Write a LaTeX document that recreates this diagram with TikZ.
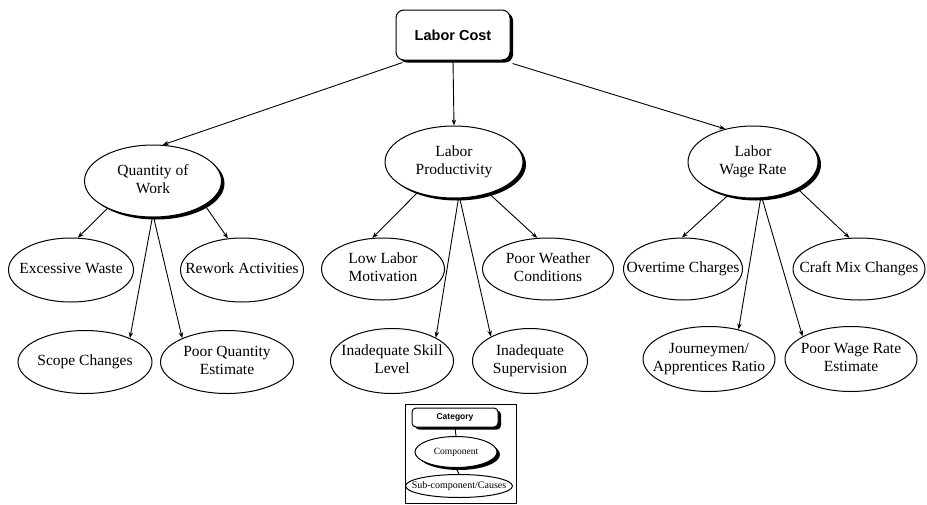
\documentclass[tikz,border=0pt]{standalone}
\usepackage{fontspec}
\setmainfont{Liberation Serif}
\setsansfont{Liberation Sans}
\usetikzlibrary{shapes.geometric,shadows,arrows.meta}

% centred label of zero width, so the ellipse size is set by minimum width/height only
\newcommand{\elabel}[1]{\makebox[0pt][c]{\begin{tabular}{@{}c@{}}#1\end{tabular}}}

\tikzset{
  x=1pt, y=-1pt,
  shade/.style={drop shadow={fill=black, opacity=1, shadow xshift=3pt, shadow yshift=-2.5pt}},
  catbox/.style={draw, line width=1pt, fill=white, rounded corners=8pt, shade,
                 font=\sffamily\bfseries\fontsize{14.5}{16}\selectfont},
  compnode/.style={ellipse, draw, line width=1pt, fill=white, inner sep=0pt, shade,
                   font=\fontsize{15.5}{17.5}\selectfont},
  subnode/.style={ellipse, draw, line width=1pt, fill=white, inner sep=0pt,
                  font=\fontsize{15.5}{17.5}\selectfont},
  link/.style={line width=0.9pt, -{Stealth[length=6pt,width=4.5pt]}},
  plain/.style={line width=0.9pt}
}

\begin{document}
\begin{tikzpicture}
\useasboundingbox (0,0) rectangle (927,504);

% top category
\node[catbox, minimum width=114pt, minimum height=50pt] (lc) at (453,35) {Labor Cost};

% components
\node[compnode, minimum width=137pt, minimum height=72pt] (qw) at (153,181) {\elabel{Quantity of\\Work}};
\node[compnode, minimum width=138pt, minimum height=72pt] (lp) at (454,162) {\elabel{Labor\\Productivity}};
\node[compnode, minimum width=130pt, minimum height=72pt] (lw) at (753,162) {\elabel{Labor\\Wage Rate}};

% sub-components of quantity of work
\node[subnode, minimum width=125pt, minimum height=64pt] (ew) at (71,270) {\elabel{Excessive Waste}};
\node[subnode, minimum width=123pt, minimum height=64pt] (ra) at (242,270) {\elabel{Rework Activities}};
\node[subnode, minimum width=134pt, minimum height=63pt] (sc) at (85,362) {\elabel{Scope Changes}};
\node[subnode, minimum width=133pt, minimum height=63pt] (pq) at (227,362) {\elabel{Poor Quantity\\Estimate}};

% sub-components of labor productivity
\node[subnode, minimum width=123pt, minimum height=62pt] (lm) at (383,269) {\elabel{Low Labor\\Motivation}};
\node[subnode, minimum width=131pt, minimum height=62pt] (pw) at (548,269) {\elabel{Poor Weather\\Conditions}};
\node[subnode, minimum width=123pt, minimum height=65pt] (is) at (392,361) {\elabel{Inadequate Skill\\Level}};
\node[subnode, minimum width=115pt, minimum height=65pt] (iv) at (530,361) {\elabel{Inadequate\\Supervision}};

% sub-components of labor wage rate
\node[subnode, minimum width=119pt, minimum height=62pt] (oc) at (683,269) {\elabel{Overtime Charges}};
\node[subnode, minimum width=132pt, minimum height=62pt] (cm) at (859,269) {\elabel{Craft Mix Changes}};
\node[subnode, minimum width=132pt, minimum height=65pt] (jr) at (709,359) {\elabel{Journeymen/\\Apprentices Ratio}};
\node[subnode, minimum width=132pt, minimum height=65pt] (pr) at (851,359) {\elabel{Poor Wage Rate\\Estimate}};

% category to components
\draw[link] ([xshift=7pt,yshift=-2pt]lc.south west) -- (qw.75);
\draw[link] (lc.south) -- (lp.north);
\draw[link] ([xshift=2pt,yshift=-3pt]lc.south east) -- (lw.130);

% quantity of work
\draw[link] (qw.211) -- (ew.78);
\draw[link] (qw.-25) -- (ra.114);
\draw[link] (qw.-91) -- (sc.28);
\draw[link] (qw.-89) -- (pq.152);

% labor productivity
\draw[link] (lp.220) -- (lm.109);
\draw[link] (lp.-42) -- (pw.109);
\draw[link] (lp.-83) -- (is.28);
\draw[link] (lp.-81) -- (iv.148);

% labor wage rate
\draw[link] (lw.233) -- (oc.92);
\draw[link] (lw.-31) -- (cm.107);
\draw[link] (lw.-78) -- (jr.45);
\draw[link] (lw.-76) -- (pr.155);

% legend
\node[draw, line width=1pt, minimum width=111pt, minimum height=99pt, inner sep=0pt] (key) at (460.5,453.5) {};
\node[draw, line width=1pt, fill=white, rounded corners=4pt, shade, minimum width=86pt, minimum height=19pt,
      inner sep=0pt, font=\sffamily\bfseries\fontsize{8.5}{10}\selectfont] (kc) at (455,417.5) {Category};
\node[ellipse, draw, line width=1pt, fill=white, shade, minimum width=82pt, minimum height=31pt,
      inner sep=0pt, font=\fontsize{9.5}{11}\selectfont] (kp) at (456,452) {\elabel{Component}};
\node[ellipse, draw, line width=1pt, fill=white, minimum width=107pt, minimum height=23pt,
      inner sep=0pt, font=\fontsize{10}{12}\selectfont] (ks) at (459,486) {\elabel{Sub-component/Causes}};
\draw[plain] (kc.south) -- (kp.north);
\draw[plain] (kp.south) -- (ks.north);
\end{tikzpicture}
\end{document}
